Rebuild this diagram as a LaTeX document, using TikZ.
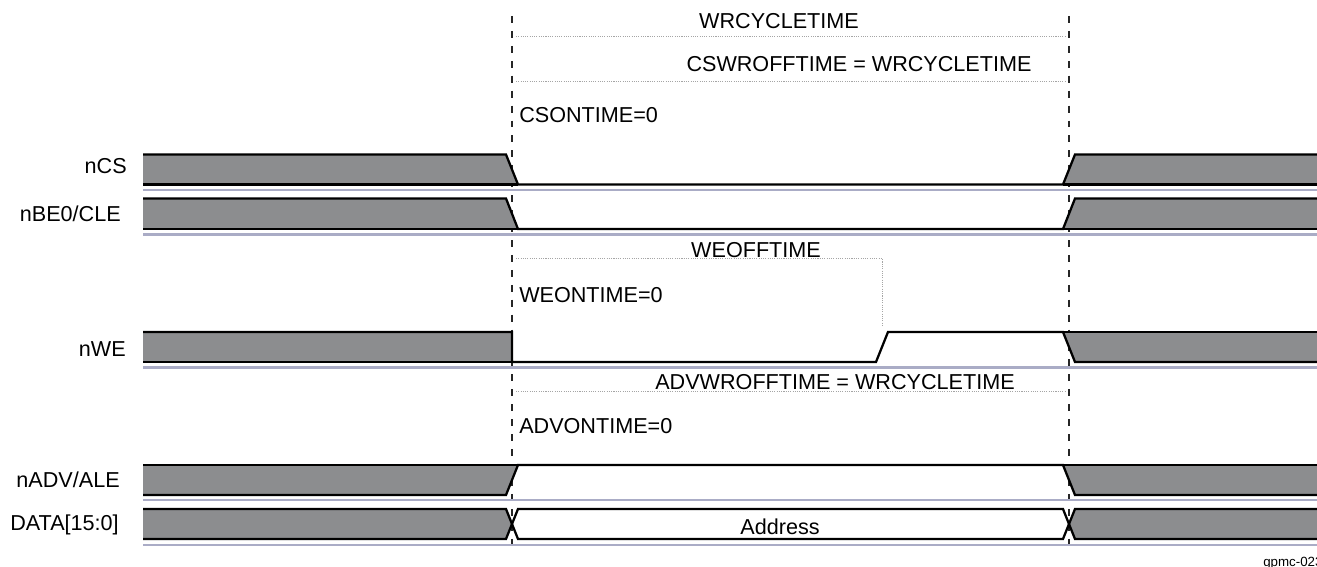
\documentclass[tikz,border=0pt]{standalone}
\usepackage{fontspec}
\setmainfont{Liberation Sans}
\usepackage{xcolor}
\usetikzlibrary{positioning}
\definecolor{softgrey}{RGB}{140,141,143}
\definecolor{softlilac}{RGB}{170,172,198}
\definecolor{softdot}{RGB}{165,165,165}
\tikzset{
	wave/.style={draw=black, line width=1.7pt, line join=miter},
	shade/.style={fill=softgrey},
	sep/.style={draw=softlilac, line width=1.7pt},
	edge/.style={draw=black!85, line width=0.9pt, dash pattern=on 5.2pt off 6pt},
	gap/.style={draw=softdot, line width=0.7pt, dash pattern=on 0.8pt off 0.9pt},
	sig/.style={anchor=east, font=\fontsize{16.2}{18}\selectfont, inner sep=0pt},
	time/.style={font=\fontsize{16.2}{18}\selectfont, inner sep=0pt}
}

\begin{document}
\begin{tikzpicture}[x=0.75pt, y=-0.75pt]
	\useasboundingbox (0,0) rectangle (1317,567);
	\clip (0,0) rectangle (1317,567);

	% vertical markers
	\coordinate (s1) at (512,16);
	\coordinate (e1) at (512,546);
	\coordinate (s2) at (1069,16);
	\coordinate (e2) at (1069,546);
	\draw[edge] (s1) -- (e1);
	\draw[edge] (s2) -- (e2);

	% timing intervals
	\draw[gap] (516,36) -- (1065,36);
	\draw[gap] (516,81) -- (1065,81);
	\draw[gap] (516,258) -- (882,258) -- (882,326);
	\draw[gap] (516,391) -- (1065,391);

	\node[time] (wrcycle) at (779,21) {WRCYCLETIME};
	\node[time] (cswroff) at (859,64) {CSWROFFTIME = WRCYCLETIME};
	\node[time, anchor=west] (cson) at (519,115) {CSONTIME=0};
	\node[time] (weoff) at (756,250) {WEOFFTIME};
	\node[time, anchor=west] (weon) at (519,295) {WEONTIME=0};
	\node[time] (advwroff) at (835,382) {ADVWROFFTIME = WRCYCLETIME};
	\node[time, anchor=west] (advon) at (519,426) {ADVONTIME=0};

	% separators
	\foreach \y in {190,234.5,367.5,500,545}
		\draw[sep] (143,\y) -- (1317,\y);

	% nCS and nBE0/CLE
	\foreach \hi/\lo in {154.5/184.5,198.5/229} {
		\fill[shade] (143,\hi) -- (506,\hi) -- (518,\lo) -- (143,\lo) -- cycle;
		\fill[shade] (1317,\hi) -- (1075,\hi) -- (1063,\lo) -- (1317,\lo) -- cycle;
		\draw[wave] (143,\hi) -- (506,\hi) -- (518,\lo) -- (1063,\lo) -- (1075,\hi) -- (1317,\hi);
		\draw[wave] (143,\lo) -- (518,\lo);
		\draw[wave] (1063,\lo) -- (1317,\lo);
	}

	% nWE
	\fill[shade] (143,332) rectangle (512,362);
	\fill[shade] (1317,332) -- (1063,332) -- (1075,362) -- (1317,362) -- cycle;
	\draw[wave] (143,332) -- (512,332) -- (512,362) -- (876,362) -- (888,332) -- (1063,332) -- (1075,362) -- (1317,362);
	\draw[wave] (143,362) -- (512,362);
	\draw[wave] (1063,332) -- (1317,332);
	\draw[wave, line width=2.2pt] (512,331) -- (512,363);

	% nADV/ALE
	\fill[shade] (143,465) -- (518,465) -- (506,495) -- (143,495) -- cycle;
	\fill[shade] (1317,465) -- (1063,465) -- (1075,495) -- (1317,495) -- cycle;
	\draw[wave] (143,495) -- (506,495) -- (518,465) -- (1063,465) -- (1075,495) -- (1317,495);
	\draw[wave] (143,465) -- (518,465);
	\draw[wave] (1063,465) -- (1317,465);

	% DATA[15:0]
	\fill[shade] (143,509) -- (506,509) -- (512,524) -- (506,539) -- (143,539) -- cycle;
	\fill[shade] (1317,509) -- (1075,509) -- (1069,524) -- (1075,539) -- (1317,539) -- cycle;
	\draw[wave] (143,509) -- (506,509) -- (518,539) -- (1063,539) -- (1075,509) -- (1317,509);
	\draw[wave] (143,539) -- (506,539) -- (518,509) -- (1063,509) -- (1075,539) -- (1317,539);
	\node[time] (addr) at (780,527) {Address};

	% signal names
	\node[sig] (ncs) at (127,166) {nCS};
	\node[sig] (nbe) at (121,214) {nBE0/CLE};
	\node[sig] (nwe) at (126,349) {nWE};
	\node[sig] (nadv) at (120,480) {nADV/ALE};
	\node[sig] (data) at (119,525) {DATA[15:0]};

	\node[anchor=west, inner sep=0pt, font=\fontsize{10}{12}\selectfont] (tag) at (1263,563) {gpmc-023};
\end{tikzpicture}
\end{document}
